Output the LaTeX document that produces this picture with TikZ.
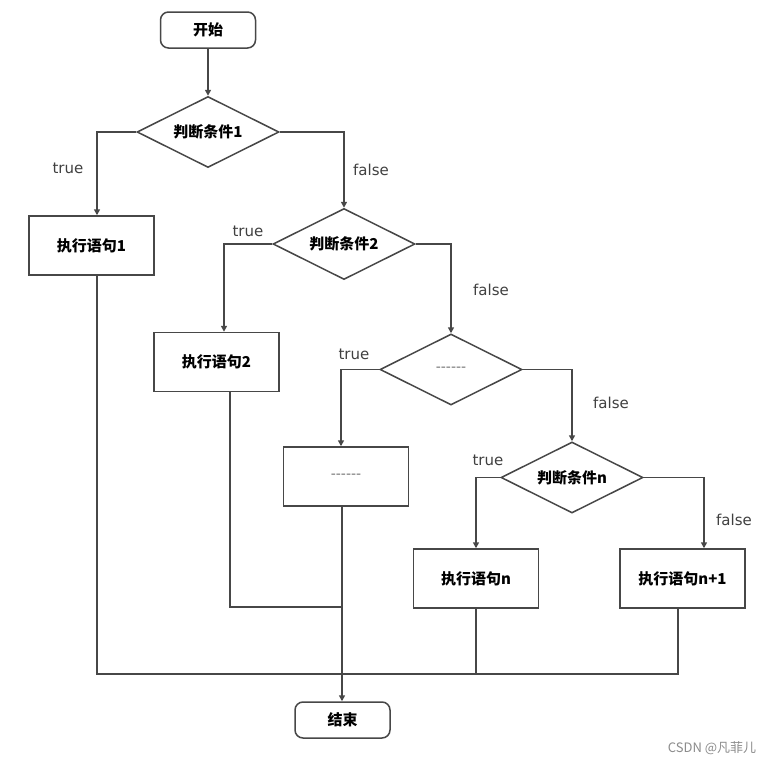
\documentclass[tikz,border=0pt]{standalone}
\usepackage{fontspec}
\usetikzlibrary{shapes.geometric,arrows.meta}
\newfontfamily\cjk{Noto Sans CJK SC}
\newfontfamily\lab{DejaVu Sans}
\newcommand{\dashtext}{{\lab\mdseries\fontsize{14}{14}\selectfont\color{black!55}------}}
\tikzset{
  ln/.style={draw=black!72,line width=1.5pt},
  arr/.style={ln,-{Triangle[length=6pt,width=6pt]}},
  term/.style={ln,rounded corners=8pt,minimum width=95pt,minimum height=36pt,inner sep=0pt,font=\cjk\bfseries\fontsize{15}{15}\selectfont},
  proc/.style={ln,rectangle,minimum width=125pt,minimum height=59pt,inner sep=0pt,font=\cjk\bfseries\fontsize{15}{15}\selectfont},
  dec/.style={ln,diamond,aspect=2,minimum width=142pt,minimum height=71pt,inner sep=0pt,font=\cjk\bfseries\fontsize{15}{15}\selectfont},
  lbl/.style={text=black!75,font=\lab\fontsize{15}{15}\selectfont,inner sep=0pt},
}
\begin{document}
\begin{tikzpicture}[x=1pt,y=-1pt]
\useasboundingbox[fill=white] (0,0) rectangle (782,766);
\node[term] (s) at (208,30) {开始};
\node[dec] (d1) at (208,132) {判断条件1};
\node[proc] (b1) at (91.5,245.5) {执行语句1};
\node[dec] (d2) at (344,244) {判断条件2};
\node[proc] (b2) at (216.5,362) {执行语句2};
\node[dec] (d3) at (451,369.5) {\dashtext};
\node[proc] (b3) at (346,476.5) {\dashtext};
\node[dec] (d4) at (572,477.5) {判断条件n};
\node[proc] (b4) at (476,578.5) {执行语句n};
\node[proc] (b5) at (682.5,578.5) {执行语句n+1};
\node[term] (e) at (342.5,720) {结束};

\draw[arr] (s.south) -- (d1.north);
\draw[arr] (d1.west) -| ([xshift=5.5pt]b1.north);
\draw[arr] (d1.east) -| (d2.north);
\draw[arr] (d2.west) -| ([xshift=7.5pt]b2.north);
\draw[arr] (d2.east) -| (d3.north);
\draw[arr] (d3.west) -| ([xshift=-5pt]b3.north);
\draw[arr] (d3.east) -| (d4.north);
\draw[arr] (d4.west) -| (b4.north);
\draw[arr] (d4.east) -| ([xshift=21.5pt]b5.north);

\coordinate (jl) at (97,674);
\coordinate (jr) at (678,674);
\coordinate (j2) at (342,607);
\draw[ln] ([xshift=5.5pt]b1.south) -- (jl) -- (jr) -- ([xshift=-4.5pt]b5.south);
\draw[ln] (b4.south) -- (b4.south |- jl);
\draw[ln] ([xshift=13.5pt]b2.south) |- (j2);
\draw[arr] ([xshift=-4pt]b3.south) -- ([xshift=-0.5pt]e.north);

\node[lbl] (t1) at (68,168) {true};
\node[lbl] (t2) at (248,231) {true};
\node[lbl] (t3) at (354,354) {true};
\node[lbl] (t4) at (488,460) {true};
\node[lbl] (f1) at (371,170) {false};
\node[lbl] (f2) at (491,290) {false};
\node[lbl] (f3) at (611,403) {false};
\node[lbl] (f4) at (734,520) {false};
\node[text=black!45,font=\cjk\fontsize{13}{13}\selectfont,inner sep=0pt] (wm) at (712,748) {CSDN @凡菲儿};
\end{tikzpicture}
\end{document}
